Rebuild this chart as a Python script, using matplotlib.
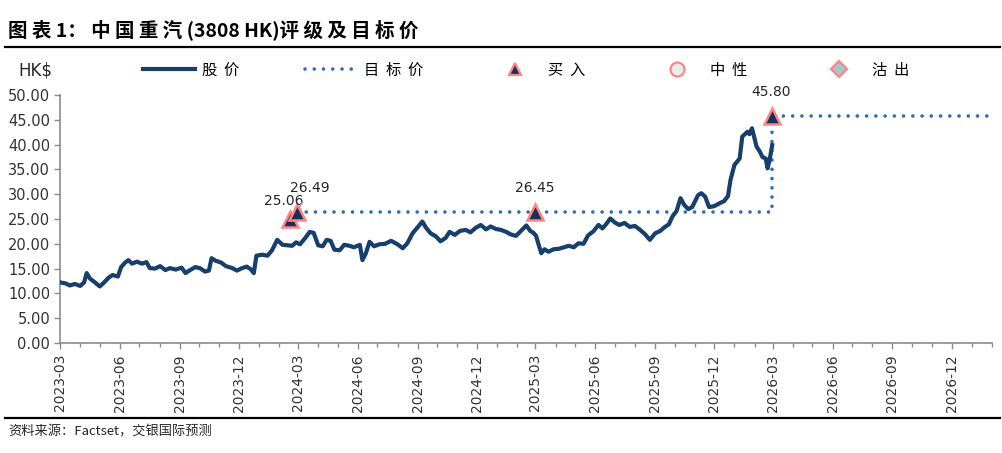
import matplotlib
matplotlib.use('Agg')
import matplotlib.pyplot as plt
import matplotlib.dates as mdates
from matplotlib.lines import Line2D
from matplotlib.ticker import FormatStrFormatter
import pandas as pd

plt.rcParams['font.family'] = ['DejaVu Sans']
CJK = ['Noto Sans CJK SC', 'DejaVu Sans']

# ── Data ───────────────────────────────────────────────────────────────────────
price_dates = [
    '2023-03-02', '2023-03-10', '2023-03-16', '2023-03-24', '2023-04-01', '2023-04-07',
    '2023-04-11', '2023-04-16', '2023-04-24', '2023-05-01', '2023-05-07', '2023-05-15',
    '2023-05-21', '2023-05-29', '2023-06-03', '2023-06-09', '2023-06-14', '2023-06-20',
    '2023-06-27', '2023-07-05', '2023-07-12', '2023-07-17', '2023-07-25', '2023-08-02',
    '2023-08-10', '2023-08-17', '2023-08-26', '2023-09-04', '2023-09-10', '2023-09-17',
    '2023-09-25', '2023-10-02', '2023-10-10', '2023-10-16', '2023-10-20', '2023-10-26',
    '2023-11-04', '2023-11-11', '2023-11-21', '2023-11-28', '2023-12-06', '2023-12-13',
    '2023-12-19', '2023-12-24', '2023-12-28', '2024-01-06', '2024-01-14', '2024-01-21',
    '2024-01-29', '2024-02-06', '2024-02-14', '2024-02-21', '2024-02-27', '2024-03-04',
    '2024-03-11', '2024-03-19', '2024-03-25', '2024-04-01', '2024-04-08', '2024-04-14',
    '2024-04-20', '2024-04-26', '2024-05-04', '2024-05-11', '2024-05-19', '2024-05-26',
    '2024-06-04', '2024-06-08', '2024-06-13', '2024-06-19', '2024-06-26', '2024-07-04',
    '2024-07-13', '2024-07-22', '2024-08-01', '2024-08-09', '2024-08-16', '2024-08-24',
    '2024-09-02', '2024-09-08', '2024-09-14', '2024-09-21', '2024-09-29', '2024-10-06',
    '2024-10-14', '2024-10-20', '2024-10-28', '2024-11-05', '2024-11-14', '2024-11-21',
    '2024-11-29', '2024-12-07', '2024-12-15', '2024-12-22', '2024-12-30', '2025-01-07',
    '2025-01-15', '2025-01-22', '2025-01-30', '2025-02-06', '2025-02-15', '2025-02-21',
    '2025-02-26', '2025-03-02', '2025-03-06', '2025-03-10', '2025-03-15', '2025-03-21',
    '2025-03-29', '2025-04-06', '2025-04-14', '2025-04-21', '2025-04-29', '2025-05-06',
    '2025-05-14', '2025-05-21', '2025-05-29', '2025-06-06', '2025-06-12', '2025-06-18',
    '2025-06-24', '2025-07-01', '2025-07-08', '2025-07-16', '2025-07-24', '2025-08-01',
    '2025-08-09', '2025-08-16', '2025-08-24', '2025-09-01', '2025-09-09', '2025-09-16',
    '2025-09-22', '2025-09-28', '2025-10-04', '2025-10-10', '2025-10-16', '2025-10-22',
    '2025-10-28', '2025-11-06', '2025-11-11', '2025-11-17', '2025-11-23', '2025-12-01',
    '2025-12-08', '2025-12-16', '2025-12-22', '2025-12-26', '2026-01-01', '2026-01-09',
    '2026-01-13', '2026-01-21', '2026-01-24', '2026-01-28', '2026-02-04', '2026-02-09',
    '2026-02-13', '2026-02-18', '2026-02-21', '2026-02-25', '2026-02-28',
]
price_values = [
    12.2, 12.0, 11.6, 11.9, 11.5, 12.2,
    14.1, 13.0, 12.2, 11.4, 12.1, 13.2,
    13.7, 13.4, 15.3, 16.2, 16.7, 16.0,
    16.4, 16.0, 16.3, 15.1, 15.0, 15.5,
    14.7, 15.1, 14.8, 15.2, 14.1, 14.7,
    15.3, 15.1, 14.4, 14.6, 17.1, 16.6,
    16.2, 15.5, 15.1, 14.6, 15.1, 15.4,
    14.9, 14.1, 17.6, 17.8, 17.6, 18.7,
    20.8, 19.8, 19.7, 19.6, 20.3, 19.9,
    21.0, 22.4, 22.2, 19.7, 19.5, 20.8,
    20.6, 18.8, 18.7, 19.8, 19.6, 19.3,
    19.8, 16.7, 18.0, 20.4, 19.5, 19.9,
    20.0, 20.6, 19.9, 19.1, 20.1, 22.1,
    23.5, 24.5, 23.2, 22.1, 21.5, 20.5,
    21.2, 22.4, 21.8, 22.6, 22.8, 22.3,
    23.2, 23.8, 22.9, 23.5, 23.0, 22.8,
    22.4, 21.9, 21.6, 22.5, 23.7, 22.6,
    22.2, 21.6, 19.8, 18.1, 18.9, 18.4,
    18.9, 19.0, 19.3, 19.6, 19.3, 20.1,
    20.0, 21.7, 22.5, 23.8, 23.1, 24.0,
    25.1, 24.3, 23.8, 24.2, 23.4, 23.6,
    22.8, 22.0, 20.8, 22.1, 22.6, 23.4,
    23.9, 25.6, 26.6, 29.2, 27.8, 27.0,
    27.4, 29.8, 30.2, 29.5, 27.4, 27.6,
    28.1, 28.6, 29.6, 32.9, 35.9, 37.2,
    41.6, 42.6, 42.1, 43.3, 39.6, 38.6,
    37.5, 37.2, 35.2, 37.6, 39.9,
]

rating_dates  = ['2024-02-17', '2024-02-29', '2025-02-28', '2026-02-27']
rating_prices = [25.06, 26.49, 26.45, 45.80]

target_dates  = ['2024-02-29', '2025-02-28', '2026-02-27', '2027-02-01']
target_prices = [26.49, 26.45, 45.80, 45.80]

yticks = [0, 5, 10, 15, 20, 25, 30, 35, 40, 45, 50]

# ── Figure ─────────────────────────────────────────────────────────────────────
PRICE_C  = '#173F6B'
TARGET_C = '#2E6DB6'
EDGE_C   = '#FF8585'
GRAY     = '#8C8C8C'
DOTS     = (0, (0.01, 2.55))

fig = plt.figure(figsize=(10.03, 4.53), dpi=100)
ax = fig.add_axes([60 / 1003, 1 - 343 / 453, 932 / 1003, 248 / 453])

pd_price  = pd.to_datetime(price_dates)
pd_target = pd.to_datetime(target_dates)
pd_rating = pd.to_datetime(rating_dates)

ax.plot(pd_price, price_values, color=PRICE_C, lw=3.0, solid_joinstyle='round', zorder=3)
ax.plot(pd_target, target_prices, color=TARGET_C, lw=2.6, drawstyle='steps-post',
        linestyle=DOTS, dash_capstyle='round', zorder=2)
ax.plot(pd_rating, rating_prices, linestyle='none', marker='^', ms=11,
        mfc='#1B2F5C', mec=EDGE_C, mew=1.8, zorder=5)

# value labels: (dx, dy) offsets in points
offsets = [(-4, 13), (9, 17), (0, 17), (0, 17)]
for d, v, (dx, dy) in zip(pd_rating, rating_prices, offsets):
    if dx > 0:
        ax.annotate(f'{v:.2f}', xy=(d, v), xytext=(dx, dy), textcoords='offset points',
                    ha='center', va='center', fontsize=10, color='#262626', zorder=6,
                    arrowprops=dict(arrowstyle='-', color='#A6A6A6', lw=1,
                                    shrinkA=3, shrinkB=2))
    else:
        ax.annotate(f'{v:.2f}', xy=(d, v), xytext=(dx, dy), textcoords='offset points',
                    ha='center', va='center', fontsize=10, color='#262626', zorder=6)

# axes styling
ax.set_xlim(pd.Timestamp('2023-03-01'), pd.Timestamp('2027-02-01'))
ax.set_ylim(0, 50)
ax.set_yticks(yticks)
ax.yaxis.set_major_formatter(FormatStrFormatter('%.2f'))
ax.xaxis.set_major_locator(mdates.MonthLocator(bymonth=[3, 6, 9, 12]))
ax.xaxis.set_minor_locator(mdates.MonthLocator())
ax.xaxis.set_major_formatter(mdates.DateFormatter('%Y-%m'))
for lbl in ax.get_xticklabels():
    lbl.set_rotation(90)

for s in ['top', 'right']:
    ax.spines[s].set_visible(False)
for s in ['left', 'bottom']:
    ax.spines[s].set_color(GRAY)
    ax.spines[s].set_linewidth(1.2)
ax.tick_params(axis='y', length=4, width=1, color=GRAY, labelsize=10.5,
               labelcolor='#333333', pad=3)
ax.tick_params(axis='x', which='major', length=4, width=1, color=GRAY, labelsize=10,
               labelcolor='#333333', pad=4)
ax.tick_params(axis='x', which='minor', length=3, width=1, color=GRAY)

# legend
handles = [
    Line2D([], [], color=PRICE_C, lw=3.0),
    Line2D([], [], color=TARGET_C, lw=2.6, linestyle=DOTS, dash_capstyle='round'),
    Line2D([], [], linestyle='none', marker='^', ms=9, mfc='#1B2F5C', mec=EDGE_C, mew=1.6),
    Line2D([], [], linestyle='none', marker='o', ms=10, mfc='#ECECF0', mec=EDGE_C, mew=1.6),
    Line2D([], [], linestyle='none', marker='D', ms=8, mfc='#A3C7CA', mec=EDGE_C, mew=1.6),
]
labels = ['股  价', '目  标  价', '买  入', '中  性', '沽  出']
fig.legend(handles, labels, loc='center left', bbox_to_anchor=(143 / 1003, 1 - 70 / 453),
           ncol=5, frameon=False, borderpad=0, borderaxespad=0,
           prop={'family': CJK, 'size': 11}, handlelength=3.4, handletextpad=0.46,
           columnspacing=4.3)

fig.text(18 / 1003, 1 - 70 / 453, 'HK$', fontsize=12, va='center', ha='left', color='#262626')

# title, rules, source
fig.text(8 / 1003, 1 - 30 / 453, '图 表 1： 中 国 重 汽 (3808 HK)评 级 及 目 标 价',
         family=CJK, fontweight='bold', fontsize=14, va='center', ha='left', color='black')
fig.add_artist(Line2D([5 / 1003, 1000 / 1003], [1 - 47 / 453] * 2,
                      transform=fig.transFigure, color='black', lw=1.6))
fig.add_artist(Line2D([5 / 1003, 1000 / 1003], [1 - 418 / 453] * 2,
                      transform=fig.transFigure, color='black', lw=1.6))
fig.text(8 / 1003, 1 - 432 / 453, '资料来源：Factset，交银国际预测', family=CJK,
         style='italic', fontsize=9.5, va='center', ha='left', color='#262626')

fig.savefig('out.png', dpi=100)
